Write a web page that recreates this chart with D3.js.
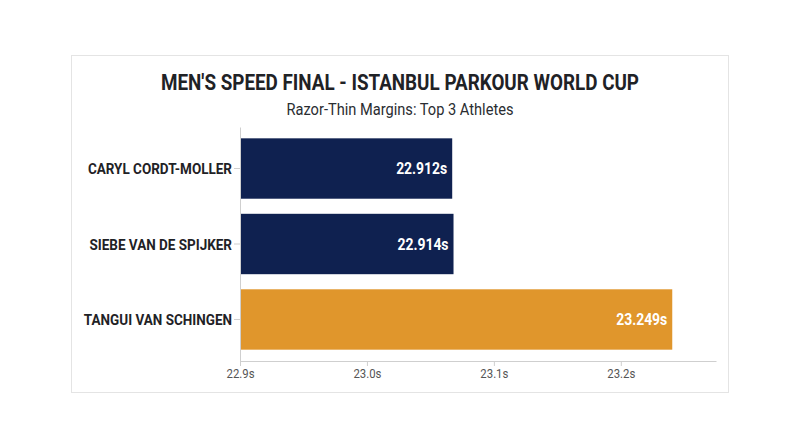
<!DOCTYPE html>
<html>
<head>
<meta charset="utf-8">
<script src="https://cdn.jsdelivr.net/npm/d3@7"></script>
<style>
  html, body { margin: 0; padding: 0; background: #fff; }
  svg { display: block; font-family: Roboto, "Open Sans", sans-serif; }
</style>
</head>
<body>
<div id="chart"></div>
<script>
// --- DATA ---
const athletes = ["CARYL CORDT-MOLLER", "SIEBE VAN DE SPIJKER", "TANGUI VAN SCHINGEN"];
const times = [22.912, 22.914, 23.249];
const barColors = ["#0f2150", "#0f2150", "#e0962c"];
const axisTicks = [22.9, 23.0, 23.1, 23.2];
const axisDomain = [22.9, 23.275];
// the reference draws its bars on a wider scale than the axis labels
const barDomain = [22.587, 23.316];
const title = "MEN'S SPEED FINAL - ISTANBUL PARKOUR WORLD CUP";
const subtitle = "Razor-Thin Margins: Top 3 Athletes";

const W = 800, H = 447;
const condensed = 0.87; // fake a condensed face by squeezing Roboto

const svg = d3.select('#chart').append('svg')
    .attr('width', W)
    .attr('height', H);

// card
svg.append('rect')
    .attr('x', 71.5).attr('y', 55.5)
    .attr('width', 657).attr('height', 337)
    .attr('fill', '#fff')
    .attr('stroke', '#e4e4e4');

// titles
svg.append('text')
    .attr('x', 400).attr('y', 90)
    .attr('text-anchor', 'middle')
    .attr('font-size', 21.5)
    .attr('font-weight', 700)
    .attr('fill', '#1f2226')
    .attr('textLength', 478)
    .attr('lengthAdjust', 'spacingAndGlyphs')
    .text(title);

svg.append('text')
    .attr('x', 400).attr('y', 115)
    .attr('text-anchor', 'middle')
    .attr('font-size', 16)
    .attr('fill', '#2a2d31')
    .attr('textLength', 227)
    .attr('lengthAdjust', 'spacingAndGlyphs')
    .text(subtitle);

// scales
const x = d3.scaleLinear().domain(axisDomain).range([240, 716]);
const xBar = d3.scaleLinear().domain(barDomain).range([240, 716]);
const y = d3.scaleBand()
    .domain(athletes)
    .range([127, 361])
    .paddingInner(0.2)
    .paddingOuter(0.15);

// bars
const rows = athletes.map((name, i) => ({ name, t: times[i], color: barColors[i] }));

svg.append('g').selectAll('rect')
    .data(rows)
    .join('rect')
    .attr('x', 240)
    .attr('y', d => y(d.name))
    .attr('width', d => xBar(d.t) - 240)
    .attr('height', y.bandwidth())
    .attr('fill', d => d.color);

// value labels inside bar ends
svg.append('g').selectAll('text')
    .data(rows)
    .join('text')
    .attr('transform', d => `translate(${xBar(d.t) - 5},${y(d.name) + y.bandwidth() / 2}) scale(${condensed},1)`)
    .attr('text-anchor', 'end')
    .attr('dy', '0.36em')
    .attr('font-size', 16)
    .attr('font-weight', 700)
    .attr('fill', '#fff')
    .text(d => d.t.toFixed(3) + 's');

// x axis
const xAxis = svg.append('g')
    .attr('transform', 'translate(0,361)')
    .call(d3.axisBottom(x)
        .tickValues(axisTicks)
        .tickFormat(d => d3.format('.1f')(d) + 's')
        .tickSize(5)
        .tickSizeOuter(0));
xAxis.select('.domain').attr('stroke', '#cfcfcf');
xAxis.selectAll('.tick line').attr('stroke', '#cfcfcf');
xAxis.selectAll('.tick text')
    .attr('font-family', 'Roboto, sans-serif')
    .attr('font-size', 13)
    .attr('fill', '#555')
    .attr('y', 8)
    .attr('textLength', 28)
    .attr('lengthAdjust', 'spacingAndGlyphs');

// y axis
const yAxis = svg.append('g')
    .attr('transform', 'translate(240,0)')
    .call(d3.axisLeft(y).tickSize(6).tickSizeOuter(0));
yAxis.select('.domain').attr('stroke', '#cfcfcf');
yAxis.selectAll('.tick line').attr('stroke', '#cfcfcf');
yAxis.selectAll('.tick text').remove();
yAxis.selectAll('.tick').append('text')
    .attr('transform', `translate(-8,0) scale(${condensed},1)`)
    .attr('text-anchor', 'end')
    .attr('dy', '0.36em')
    .attr('font-family', 'Roboto, sans-serif')
    .attr('font-size', 15.5)
    .attr('font-weight', 700)
    .attr('fill', '#1f2226')
    .text(d => d);
</script>
</body>
</html>
